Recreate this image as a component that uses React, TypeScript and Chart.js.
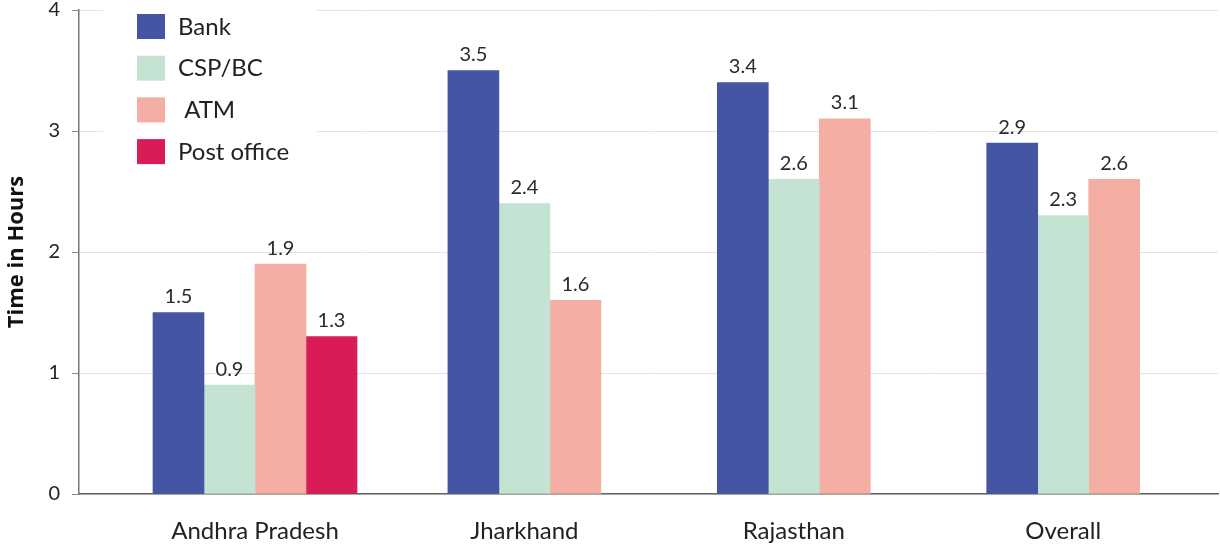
import React, { useEffect, useRef } from "react";
import { Chart, registerables } from "chart.js";

Chart.register(...registerables);

const categories = ["Andhra Pradesh", "Jharkhand", "Rajasthan", "Overall"];
const seriesNames = ["Bank", "CSP/BC", " ATM", "Post office"];
const bank = [1.5, 3.5, 3.4, 2.9];
const cspBc = [0.9, 2.4, 2.6, 2.3];
const atm = [1.9, 1.6, 3.1, 2.6];
const postOffice: (number | null)[] = [1.3, null, null, null];
const yTicks = [0, 1, 2, 3, 4];
const colors = ["#4455a3", "#c5e3d2", "#f4aea3", "#d91c56"];

const FONT = "Lato, 'Open Sans', sans-serif";

const valueLabels = {
  id: "valueLabels",
  afterDatasetsDraw(chart: any) {
    const ctx = chart.ctx;
    ctx.save();
    ctx.font = `20px ${FONT}`;
    ctx.fillStyle = "#2a2a2a";
    ctx.textAlign = "center";
    ctx.textBaseline = "bottom";
    chart.data.datasets.forEach((ds: any, di: number) => {
      const meta = chart.getDatasetMeta(di);
      meta.data.forEach((el: any, i: number) => {
        const v = ds.data[i].y;
        if (v === null || v === undefined) return;
        ctx.fillText(String(v.toFixed(1)), el.x, el.y - 6);
      });
    });
    ctx.restore();
  },
};

const boxLegend = {
  id: "boxLegend",
  beforeDatasetsDraw(chart: any) {
    const ctx = chart.ctx;
    const left = chart.chartArea.left;
    ctx.save();
    ctx.fillStyle = "#ffffff";
    ctx.fillRect(left + 24, 0, 214, 174);
    ctx.font = `24px ${FONT}`;
    ctx.textBaseline = "middle";
    ctx.textAlign = "left";
    chart.data.datasets.forEach((ds: any, i: number) => {
      const y = 14 + i * 41.7;
      ctx.fillStyle = ds.backgroundColor;
      ctx.fillRect(left + 58, y, 28, 25);
      ctx.fillStyle = "#222";
      ctx.fillText(ds.label, left + 99, y + 13);
    });
    ctx.restore();
  },
};

export default function App() {
  const ref = useRef<HTMLCanvasElement | null>(null);

  useEffect(() => {
    if (!ref.current) return;
    const series = [bank, cspBc, atm, postOffice];
    const chart = new Chart(ref.current, {
      type: "bar",
      data: {
        datasets: series.map((vals, si) => ({
          label: seriesNames[si],
          data: vals.map((v, i) => ({ x: i, y: v })),
          backgroundColor: colors[si],
          borderWidth: 0,
          barThickness: 51,
          skipNull: true,
        })),
      },
      options: {
        animation: false,
        responsive: true,
        maintainAspectRatio: false,
        layout: { padding: { top: 0, right: 2, bottom: 0, left: 0 } },
        plugins: {
          legend: { display: false },
          tooltip: { enabled: false },
        },
        scales: {
          x: {
            type: "linear",
            offset: false,
            min: -0.6533,
            max: 3.5746,
            grid: { display: false, drawTicks: false, offset: false },
            border: { display: true, color: "#666", width: 1.5 },
            afterBuildTicks: (scale: any) => {
              scale.ticks = categories.map((_, i) => ({ value: i }));
            },
            afterFit: (scale: any) => {
              scale.height = 56;
              scale.paddingLeft = 0;
              scale.paddingRight = 0;
              scale.paddingTop = 0;
              scale.paddingBottom = 0;
            },
            ticks: {
              autoSkip: false,
              maxRotation: 0,
              padding: 23,
              color: "#222",
              font: { family: FONT, size: 24 },
              callback: (v: any) => categories[Math.round(Number(v))] ?? "",
            },
          },
          y: {
            min: 0,
            max: 4,
            afterBuildTicks: (scale: any) => {
              scale.ticks = yTicks.map((v) => ({ value: v }));
            },
            afterFit: (scale: any) => {
              scale.width = 79;
              scale.paddingTop = 10;
              scale.paddingBottom = 0;
            },
            grid: {
              color: "#e4e4e4",
              lineWidth: 1,
              tickLength: 7,
              tickColor: "#888",
            },
            border: { display: true, color: "#777", width: 1.5 },
            ticks: {
              padding: 12,
              color: "#222",
              font: { family: FONT, size: 20, lineHeight: 1 },
              callback: (v: any) => String(v),
            },
            title: {
              display: true,
              text: "Time in Hours",
              color: "#111",
              font: { family: "'Open Sans', Lato, sans-serif", size: 22, weight: "bold" },
              padding: { top: 4, bottom: 0 },
            },
          },
        },
      },
      plugins: [boxLegend, valueLabels],
    } as any);
    return () => chart.destroy();
  }, []);

  return (
    <div
      style={{
        position: "fixed",
        left: 0,
        top: 0,
        width: 1220,
        height: 550,
        background: "#fff",
      }}
    >
      <canvas ref={ref} />
    </div>
  );
}
